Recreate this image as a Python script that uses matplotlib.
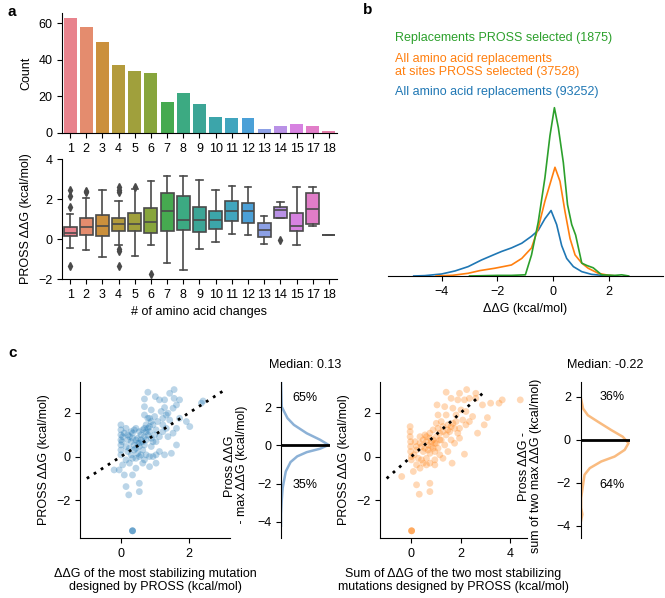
import matplotlib
matplotlib.use("Agg")
import matplotlib.pyplot as plt

plt.rcParams["font.family"] = ["Liberation Sans", "DejaVu Sans"]
plt.rcParams["font.size"] = 9
plt.rcParams["axes.spines.top"] = False
plt.rcParams["axes.spines.right"] = False

# ── data: panel a ─────────────────────────────────────────────────────────────
n_changes = ["1", "2", "3", "4", "5", "6", "7", "8", "9", "10", "11", "12",
             "13", "14", "15", "17", "18"]
counts = [63, 58, 50, 37, 34, 33, 17, 22, 16, 9, 8, 8, 2, 4, 5, 4, 1]

box_med = [0.30, 0.58, 0.65, 0.73, 0.75, 0.87, 1.42, 0.93, 0.93, 0.95, 1.42,
           1.40, 0.47, 1.47, 0.65, 1.50, 0.20]
box_q1 = [0.17, 0.22, 0.13, 0.42, 0.40, 0.32, 0.38, 0.43, 0.35, 0.50, 0.90,
          0.78, 0.10, 1.07, 0.40, 0.73, 0.20]
box_q3 = [0.60, 1.05, 1.22, 1.07, 1.28, 1.53, 2.30, 2.17, 1.62, 1.40, 1.92,
          1.82, 0.80, 1.58, 1.32, 2.32, 0.20]
box_lo = [-0.45, -0.57, -0.90, -0.28, -0.83, -0.32, -1.20, -1.57, -0.50, -0.17,
          0.23, 0.18, -0.23, 1.07, -0.30, 0.65, 0.20]
box_hi = [1.25, 2.05, 2.47, 1.92, 2.50, 2.92, 3.13, 3.13, 2.97, 2.45, 2.65,
          2.62, 1.13, 1.85, 2.62, 2.62, 0.20]
box_fliers = [[2.45, 2.15, 1.60, -1.33], [2.40, 2.35], [], [2.60, 2.47, 2.33, -0.48, -0.62, -1.33],
              [2.60], [-1.77], [], [], [], [], [], [], [], [-0.03], [], [], []]

# ── data: panel b (density curves) ───────────────────────────────────────────
green_x = [-3.0, -2.0, -1.5, -1.0, -0.78, -0.54, -0.30, -0.12, 0.04, 0.18, 0.36,
           0.51, 0.66, 0.80, 1.02, 1.20, 1.43, 1.73, 2.20, 2.45, 2.70]
green_y = [0.0, 0.005, 0.005, 0.01, 0.18, 0.46, 0.84, 1.20, 1.44, 1.27, 0.97,
           0.61, 0.44, 0.35, 0.11, 0.09, 0.07, 0.01, 0.005, 0.01, 0.0]
orange_x = [-4.2, -3.6, -3.05, -2.63, -2.1, -1.5, -1.13, -0.78, -0.54, -0.30,
            0.06, 0.24, 0.42, 0.60, 0.78, 1.02, 1.25, 1.61, 1.97, 2.3]
orange_y = [0.0, 0.006, 0.023, 0.046, 0.066, 0.094, 0.15, 0.24, 0.41, 0.64,
            0.93, 0.81, 0.55, 0.32, 0.18, 0.11, 0.066, 0.023, 0.006, 0.0]
blue_x = [-5.0, -4.6, -4.0, -3.52, -3.05, -2.57, -2.1, -1.85, -1.5, -1.13,
          -0.78, -0.54, -0.30, -0.08, 0.12, 0.30, 0.48, 0.72, 1.02, 1.37, 1.85, 2.2]
blue_y = [0.0, 0.003, 0.017, 0.043, 0.08, 0.137, 0.185, 0.21, 0.24, 0.28,
          0.34, 0.39, 0.49, 0.56, 0.44, 0.26, 0.15, 0.08, 0.037, 0.014, 0.003, 0.0]

# ── data: panel c (scatter) ──────────────────────────────────────────────────
max_ddg = [0.79, 1.56, 1.56, 1.28, 1.13, 0.69, 0.69, 0.89, 1.28, 1.38, 1.53, 1.63,
           1.72, 1.43, 1.01, 2.41, 2.36, 2.02, 1.92, 1.72, 1.63, 1.43, 1.23, 1.08,
           0.99, 0.84, 0.74, 0.79, 0.64, 0.54, 0.44, 0.34, 0.25, 0.0, 0.0, 0.0,
           0.0, 0.0, 0.0, 0.0, 0.03, 0.05, 0.15, 0.20, 0.30, 0.34, 0.39, 0.44,
           0.49, 0.54, 0.59, 0.64, 0.69, 0.74, 0.79, 0.84, 0.89, 0.94, 0.99, 1.03,
           1.13, 1.23, 1.33, 1.48, 1.03, 0.89, 0.74, 0.54, 0.44, 0.84, 0.94, 1.03,
           0.84, 0.64, 0.44, 0.25, 0.15, 0.05, -0.20, -0.05, 0.10, 0.34, 0.15, 0.54,
           0.54, 0.23, 0.34, 0.34, 0.34, 0.25, 0.30, 0.20, 0.34, 0.39, 0.49, 0.59,
           0.69, 0.49, 0.59, 0.69, 0.64, 0.44, 0.54, 0.74, 0.69, 0.84, 0.94, 0.89,
           0.79, 0.69, 1.18, 1.33, 1.23, 1.53, 1.63, 1.38, 1.13, 1.03, 1.28, 0.39,
           0.30, 0.20, 0.10, 0.15]
pross_max = [2.94, 3.06, 2.66, 2.59, 2.59, 2.63, 2.28, 2.13, 2.24, 1.98, 2.21, 2.36,
             2.59, 2.89, 2.74, 2.54, 2.44, 1.37, 1.60, 1.75, 1.29, 1.67, 1.75, 1.60,
             1.83, 1.75, 1.45, 1.29, 1.22, 1.14, 1.29, 1.07, 0.91, 1.45, 1.22, 0.99,
             0.76, 0.53, 0.30, 0.08, 0.68, 0.91, 0.46, 0.23, 0.08, -0.08, 0.53, 0.38,
             0.61, 0.46, 0.76, 0.30, 0.53, 0.76, 0.99, 1.14, 0.84, 0.68, 0.99, 1.22,
             0.91, 1.14, 1.29, 0.15, 0.68, 0.46, 0.08, 0.0, -0.08, 0.0, 0.0, -0.30,
             -0.46, -0.30, -0.53, -0.30, -0.15, -0.38, -0.61, -0.61, -0.84, -0.84, -1.37, -1.22,
             -1.60, -1.75, -3.39, -3.39, -3.39, 0.38, 0.68, 0.76, 0.84, 0.30, 0.15, 0.08,
             -0.15, 0.84, 0.99, 0.91, 0.68, 0.76, 0.61, 1.14, 1.29, 1.37, 1.45, 1.60,
             1.75, 1.90, 2.06, 1.90, 1.45, 1.07, 0.53, 0.91, 0.23, 0.08, 0.08, 1.22,
             1.14, 0.99, 1.07, 1.29]

sum_ddg = [1.41, 2.24, 1.95, 1.61, 1.88, 2.15, 2.35, 2.61, 2.61, 3.68, 4.41, 3.55,
           3.21, 2.88, 3.08, 2.68, 2.95, 1.04, 1.35, 1.68, 2.01, 1.41, 1.81, 2.21,
           2.48, 2.35, 2.08, 1.68, 1.48, 1.28, 1.08, 0.88, 0.75, 0.61, 0.48, 0.35,
           -0.05, -0.05, -0.05, -0.03, -0.03, -0.03, 0.0, 0.0, 0.11, 0.21, 0.28, 0.21,
           0.48, 0.61, 0.75, 0.88, 0.95, 0.81, 0.68, 0.55, 0.75, 1.01, 1.15, 1.21,
           1.41, 1.55, 1.75, 1.88, 1.61, 1.35, 1.08, 1.15, 0.95, 0.75, 0.35, 0.08,
           -0.39, 0.21, 0.75, 0.75, 0.32, 1.65, 2.15, 0.01, 0.01, 0.01, 0.61, 0.81,
           0.95, 0.48, 0.41, 0.68, 0.88, 1.01, 1.15, 0.55, 0.35, 0.15, 0.21, 1.28,
           1.48, 1.61, 1.21, 1.01, 1.95, 1.75, 0.61, 0.41, 0.95, 1.28, 1.48, 1.95,
           1.81, 2.21, 1.08]
pross_sum = [2.94, 3.06, 2.89, 2.66, 2.59, 2.59, 2.66, 2.66, 2.89, 2.59, 2.59, 2.44,
             2.44, 2.36, 1.78, 1.07, 1.45, 2.36, 2.28, 2.21, 2.13, 1.90, 1.90, 2.06,
             1.83, 1.60, 1.67, 1.52, 1.45, 1.37, 1.29, 1.22, 1.07, 0.91, 0.76, 0.61,
             1.37, 1.14, 0.91, 0.68, 0.46, 0.23, 0.0, -0.15, 0.08, 0.30, -0.08, -0.38,
             -0.30, -0.08, 0.15, 0.38, 0.61, 0.68, 0.53, 0.38, 0.84, 0.91, 1.07, 0.76,
             0.99, 1.14, 1.29, 1.07, 0.76, 0.53, 0.38, 0.08, -0.15, -0.30, -0.53, -0.68,
             -0.91, -1.29, -1.22, -1.60, -1.72, -0.30, 0.11, -3.39, -3.39, -3.39, 0.68, 0.46,
             0.23, 0.23, 0.46, 0.30, 0.76, 0.61, 0.76, 0.99, 0.91, 0.68, 0.46, 1.14,
             1.22, 1.37, 1.60, 1.52, 1.29, 0.61, -0.38, -0.15, -0.38, -0.08, 0.23, 0.84,
             1.60, 1.45, 1.90]

# marginal densities (difference to prediction)
diff1_y = [3.34, 2.03, 1.43, 1.08, 0.64, 0.30, 0.03, -0.17, -0.35, -0.57, -0.87,
           -1.36, -2.23, -2.90, -3.60, -4.20]
diff1_d = [0.0, 0.014, 0.136, 0.27, 0.54, 0.82, 1.0, 0.82, 0.54, 0.34, 0.20,
           0.10, 0.034, 0.014, 0.0, 0.0]
diff2_y = [2.0, 1.46, 1.15, 0.85, 0.46, 0.15, -0.15, -0.46, -0.77, -1.0, -1.31,
           -1.62, -2.08, -2.69, -3.15, -3.46, -3.85]
diff2_d = [0.0, 0.05, 0.15, 0.36, 0.64, 0.88, 1.0, 0.92, 0.71, 0.43, 0.19,
           0.08, 0.05, 0.01, 0.01, 0.035, 0.0]

BAR_COLORS = ["#e8838d", "#e48c6e", "#cb903c", "#b49b3c", "#a0a03c", "#87a53c",
              "#46aa50", "#3caa82", "#3ca596", "#3ca5aa", "#41a5be", "#4ba0d7",
              "#8ca0e6", "#b991e6", "#d782e1", "#e17dc8", "#e67daa"]
GRAY = "#4a4a4a"
BLUE, ORANGE, GREEN = "#1f77b4", "#ff7f0e", "#2ca02c"

fig = plt.figure(figsize=(6.65, 5.98), dpi=100)

# ── a: bar chart ─────────────────────────────────────────────────────────────
ax_bar = fig.add_axes([0.0932, 0.7776, 0.4135, 0.2007])
pos = list(range(len(counts)))
ax_bar.bar(pos, counts, width=0.8, color=BAR_COLORS)
ax_bar.set_xlim(-0.5, len(counts) - 0.5)
ax_bar.set_ylim(0, 65.6)
ax_bar.set_yticks([0, 20, 40, 60])
ax_bar.set_xticks(pos)
ax_bar.set_xticklabels(n_changes)
ax_bar.set_ylabel("Count")

# ── a: box plot ──────────────────────────────────────────────────────────────
ax_box = fig.add_axes([0.0932, 0.5334, 0.4135, 0.2007])
stats = []
for i in range(len(n_changes)):
    stats.append(dict(med=box_med[i], q1=box_q1[i], q3=box_q3[i],
                      whislo=box_lo[i], whishi=box_hi[i], fliers=box_fliers[i]))
bp = ax_box.bxp(stats, positions=pos, widths=0.8, patch_artist=True,
                boxprops=dict(edgecolor=GRAY, linewidth=1.2),
                medianprops=dict(color=GRAY, linewidth=1.2),
                whiskerprops=dict(color=GRAY, linewidth=1.2),
                capprops=dict(color=GRAY, linewidth=1.2),
                flierprops=dict(marker="d", markerfacecolor=GRAY,
                                markeredgecolor=GRAY, markersize=4))
for patch, c in zip(bp["boxes"], BAR_COLORS):
    patch.set_facecolor(c)
ax_box.set_xlim(-0.5, len(counts) - 0.5)
ax_box.set_ylim(-2, 4)
ax_box.set_yticks([-2, 0, 2, 4])
ax_box.set_xticks(pos)
ax_box.set_xticklabels(n_changes)
ax_box.set_ylabel("PROSS ΔΔG (kcal/mol)")
ax_box.set_xlabel("# of amino acid changes")

# ── b: density curves ────────────────────────────────────────────────────────
ax_kde = fig.add_axes([0.5835, 0.5385, 0.4135, 0.428])
ax_kde.plot(blue_x, blue_y, color=BLUE, lw=1.2)
ax_kde.plot(orange_x, orange_y, color=ORANGE, lw=1.2)
ax_kde.plot(green_x, green_y, color=GREEN, lw=1.2)
ax_kde.set_xlim(-5.92, 3.93)
ax_kde.set_ylim(0, 2.19)
ax_kde.set_xticks([-4, -2, 0, 2])
ax_kde.set_yticks([])
ax_kde.spines["left"].set_visible(False)
ax_kde.set_xlabel("ΔΔG (kcal/mol)")
ax_kde.text(0.025, 0.93, "Replacements PROSS selected (1875)", color=GREEN,
            transform=ax_kde.transAxes, va="center", ha="left")
ax_kde.text(0.025, 0.822, "All amino acid replacements\nat sites PROSS selected (37528)",
            color=ORANGE, transform=ax_kde.transAxes, va="center", ha="left",
            linespacing=1.05)
ax_kde.text(0.025, 0.719, "All amino acid replacements (93252)", color=BLUE,
            transform=ax_kde.transAxes, va="center", ha="left")


# ── c: scatter + marginals ───────────────────────────────────────────────────
def scatter_panel(rect, x, y, color, xlabel, xticks):
    ax = fig.add_axes(rect)
    ax.scatter(x, y, s=24, color=color, alpha=0.3, edgecolors="none")
    ax.plot([-1, 3], [-1, 3], ls=(0, (1, 2)), color="black", lw=2)
    ax.set_xticks(xticks)
    ax.set_yticks([-2, 0, 2])
    ax.set_ylim(-3.72, 3.42)
    ax.set_xlabel(xlabel, linespacing=1.1, labelpad=6)
    ax.set_ylabel("PROSS ΔΔG (kcal/mol)")
    return ax


def marginal_panel(rect, d, y, color, ylim, title, ylabel, ylab_x, top, bottom, txt_x):
    ax = fig.add_axes(rect)
    ax.plot(d, y, color=color, lw=1.8)
    ax.axhline(0, color="black", lw=2)
    ax.set_xlim(0, 1.03)
    ax.set_ylim(*ylim)
    ax.set_yticks([-4, -2, 0, 2])
    ax.set_xticks([])
    ax.spines["bottom"].set_visible(False)
    ax.text(0.5, 1.11, title, transform=ax.transAxes, ha="center", va="center")
    ax.text(txt_x, 0.9, top, transform=ax.transAxes, ha="center", va="center")
    ax.text(txt_x, 0.34, bottom, transform=ax.transAxes, ha="center", va="center")
    ax.text(ylab_x, 0.46, ylabel, transform=ax.transAxes, rotation=90,
            ha="center", va="center", multialignment="center", linespacing=1.0)
    return ax


scatter_panel([0.1203, 0.1003, 0.2256, 0.2614], max_ddg, pross_max, BLUE,
              "ΔΔG of the most stabilizing mutation\ndesigned by PROSS (kcal/mol)", [0, 2])
scatter_panel([0.5714, 0.1003, 0.221, 0.2614], sum_ddg, pross_sum, ORANGE,
              "Sum of ΔΔG of the two most stabilizing\nmutations designed by PROSS (kcal/mol)",
              [0, 2, 4])
marginal_panel([0.4226, 0.1002, 0.0737, 0.2602], diff1_d, diff1_y, "#8cb1d6",
               (-4.85, 3.3), "Median: 0.13", "Pross ΔΔG\n - max ΔΔG (kcal/mol)",
               -0.92, "65%", "35%", 0.49)
marginal_panel([0.8732, 0.1003, 0.0741, 0.2614], diff2_d, diff2_y, "#f9bb80",
               (-4.56, 2.71), "Median: -0.22", "Pross ΔΔG -\nsum of two max ΔΔG (kcal/mol)",
               -1.03, "36%", "64%", 0.63)

# panel letters
fig.text(8 / 665, 1 - 12 / 598, "a", fontsize=11, fontweight="bold", va="center")
fig.text(363 / 665, 1 - 10 / 598, "b", fontsize=11, fontweight="bold", va="center")
fig.text(8 / 665, 1 - 353 / 598, "c", fontsize=11, fontweight="bold", va="center")

fig.savefig("out.png", dpi=100)
